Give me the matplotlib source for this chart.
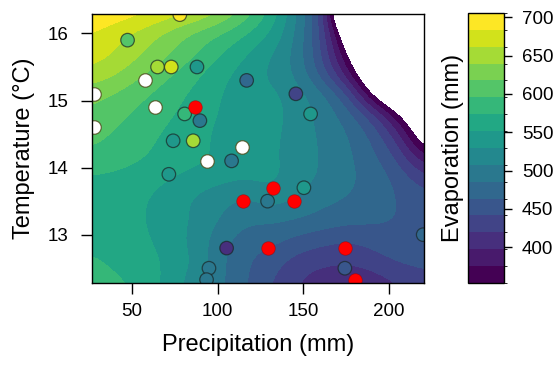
import numpy as np
import matplotlib

matplotlib.use("Agg")
import matplotlib.pyplot as plt
from matplotlib.colors import BoundaryNorm, ListedColormap

plt.rcParams["font.family"] = ["Liberation Sans", "DejaVu Sans"]

# evaporation surface on an even grid (rows: temperature ascending)
prec_grid = [27.0, 41.9, 56.8, 71.8, 86.7, 101.6, 116.5, 131.5, 146.4, 161.3, 176.2, 191.1, 206.1, 221.0]
temp_grid = [12.28, 12.59, 12.90, 13.21, 13.52, 13.83, 14.14, 14.44, 14.75, 15.06, 15.37, 15.68, 15.99, 16.30]
evap_grid = [
    [590, 580, 565, 545, 515, 490, 465, 440, 420, 402, 400, 405, 418, 432],
    [580, 565, 558, 550, 528, 490, 465, 452, 430, 425, 420, 430, 445, 448],
    [565, 562, 555, 545, 520, 495, 470, 470, 455, 445, 440, 450, 458, 456],
    [562, 560, 553, 540, 528, 505, 490, 488, 485, 478, 470, 468, 462, 458],
    [565, 562, 553, 542, 525, 515, 500, 520, 505, 490, 485, 475, 462, 452],
    [570, 566, 560, 552, 542, 535, 535, 538, 518, 505, 490, 478, 458, 428],
    [588, 585, 575, 565, 560, 548, 528, 535, 520, 505, 490, 470, 438, 378],
    [603, 590, 580, 568, 560, 545, 532, 537, 518, 505, 488, 460, 410, 318],
    [612, 600, 588, 575, 565, 550, 535, 540, 520, 500, 478, 435, 362, 290],
    [625, 612, 598, 582, 568, 552, 538, 538, 518, 496, 450, 345, 285, 230],
    [655, 640, 618, 598, 578, 558, 540, 525, 505, 455, 385, 290, 220, 160],
    [674, 660, 640, 620, 598, 575, 552, 530, 500, 440, 350, 260, 180, 130],
    [684, 668, 652, 632, 612, 595, 575, 550, 505, 440, 310, 200, 130, 100],
    [706, 700, 690, 678, 665, 645, 610, 570, 507, 441, 220, 150, 100, 80],
]

# sites: kind "v" = coloured by evaporation, "w" = white, "r" = red
site_prec = [78, 47.5, 65, 73, 88, 57.6, 27.9, 117, 145.7, 63.5, 86.6, 80.8,
             89.7, 154.3, 27.9, 74.1, 85.8, 114, 94, 108.2, 71.6, 132.1, 150.4,
             114.6, 129.2, 144.7, 220, 105.3, 129.6, 174.3, 95, 174.3, 93.6, 180.1]
site_temp = [16.28, 15.9, 15.5, 15.5, 15.5, 15.3, 15.1, 15.3, 15.1, 14.9, 14.9, 14.8,
             14.7, 14.8, 14.6, 14.4, 14.4, 14.3, 14.1, 14.1, 13.9, 13.7, 13.7,
             13.5, 13.5, 13.5, 13.0, 12.8, 12.8, 12.8, 12.5, 12.5, 12.33, 12.33]
site_evap = [690, 610, 645, 670, 545, 0, 0, 480, 420, 0, 0, 595,
             490, 545, 0, 530, 645, 0, 0, 495, 535, 0, 550,
             0, 495, 0, 470, 405, 0, 0, 490, 460, 490, 0]
site_kind = ["v", "v", "v", "v", "v", "w", "w", "v", "v", "w", "r", "v",
             "v", "v", "w", "v", "v", "w", "w", "v", "v", "r", "v",
             "r", "v", "r", "v", "v", "r", "r", "v", "v", "v", "r"]

levels = np.linspace(353, 706, 17)
cbar_ticks = [400, 450, 500, 550, 600, 650, 700]

# R-style viridis: one colour per band, end colours included
cmap = ListedColormap(plt.get_cmap("viridis")(np.linspace(0, 1, len(levels) - 1)))
cmap.set_under("white")
cmap.set_over(cmap(cmap.N - 1))
norm = BoundaryNorm(levels, cmap.N)

fig = plt.figure(figsize=(5.57, 3.65), dpi=100)
ax = fig.add_axes([0.165, 0.2247, 0.596, 0.737])
cax = fig.add_axes([0.840, 0.2247, 0.0646, 0.740])

# smooth filled bands: interpolate the grid values, then bin them into the levels
dx = (prec_grid[-1] - prec_grid[0]) / (len(prec_grid) - 1)
dy = (temp_grid[-1] - temp_grid[0]) / (len(temp_grid) - 1)
im = ax.imshow(np.array(evap_grid, dtype=float), origin="lower", aspect="auto",
               extent=[prec_grid[0] - dx / 2, prec_grid[-1] + dx / 2,
                       temp_grid[0] - dy / 2, temp_grid[-1] + dy / 2],
               cmap=cmap, norm=norm, interpolation="bicubic",
               interpolation_stage="data", zorder=1)

kind = np.array(site_kind)
px, py, pe = np.array(site_prec), np.array(site_temp), np.array(site_evap)

m = kind == "v"
ax.scatter(px[m], py[m], c=pe[m], cmap=cmap, norm=norm, s=95,
           edgecolors=(0.1, 0.15, 0.15, 0.7), linewidths=0.9, zorder=3)
m = kind == "w"
ax.scatter(px[m], py[m], c="white", s=95,
           edgecolors=(0.3, 0.3, 0.1, 0.8), linewidths=0.9, zorder=3)
m = kind == "r"
ax.scatter(px[m], py[m], c="#ff0000", s=95,
           edgecolors=(0.6, 0.0, 0.0, 0.5), linewidths=0.6, zorder=4)

ax.set_xlim(26.7, 220.4)
ax.set_ylim(12.28, 16.29)
ax.set_xticks([50, 100, 150, 200])
ax.set_yticks([13, 14, 15, 16])
ax.tick_params(length=8, width=1.0, labelsize=13.5, direction="out")
ax.tick_params(axis="x", pad=6.5)
ax.tick_params(axis="y", pad=9)
ax.set_xlabel("Precipitation (mm)", fontsize=17, labelpad=10)
ax.set_ylabel("Temperature (°C)", fontsize=17, labelpad=9)
for s in ax.spines.values():
    s.set_linewidth(1.0)
    s.set_zorder(5)

cb = fig.colorbar(im, cax=cax, ticks=cbar_ticks)
cb.outline.set_linewidth(1.0)
cb.ax.tick_params(length=6, width=1.0, pad=7, labelsize=13.5)
cb.ax.yaxis.set_label_position("left")
cb.set_label("Evaporation (mm)", fontsize=17, labelpad=3)

fig.savefig("out.png", dpi=100)
